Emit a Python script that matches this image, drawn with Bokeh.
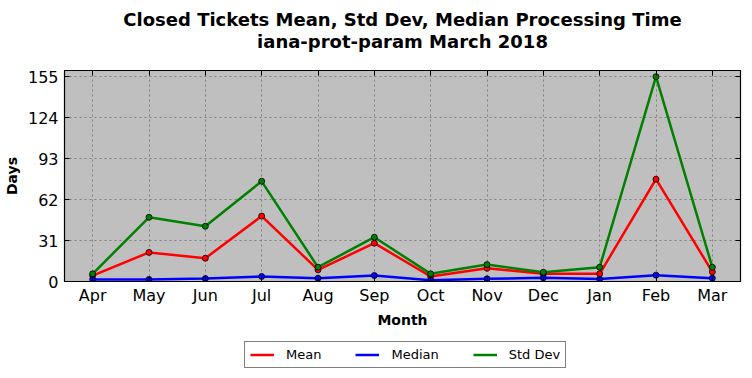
from bokeh.plotting import figure
from bokeh.layouts import column
from bokeh.models import FixedTicker, Legend, LegendItem, LinearAxis, Range1d, Label
from bokeh.embed import file_html
from bokeh.resources import INLINE

months = ["Apr", "May", "Jun", "Jul", "Aug", "Sep", "Oct", "Nov", "Dec", "Jan", "Feb", "Mar"]
mean = [4.5, 22, 17.6, 49.5, 8.8, 29, 3.8, 10, 5.8, 5.8, 77.4, 7.3]
median = [1.5, 1.5, 2.2, 3.8, 2.5, 4.5, 1.0, 2.0, 2.8, 1.8, 4.8, 2.5]
std_dev = [5.8, 48.6, 41.8, 75.8, 10.8, 33.5, 5.8, 12.8, 7.0, 10.8, 155, 10.8]
y_ticks = [0, 31, 62, 93, 124, 155]
title_lines = ["Closed Tickets Mean, Std Dev, Median Processing Time", "iana-prot-param March 2018"]
series = [("Mean", mean, "#ff0000"), ("Median", median, "#0000ff"), ("Std Dev", std_dev, "#008000")]

x = list(range(len(months)))
FONT = "DejaVu Sans"


def strip(height):
    f = figure(frame_width=676, frame_height=height, output_backend="svg", toolbar_location=None,
               x_range=Range1d(0, 1), y_range=Range1d(0, height),
               min_border_left=58, min_border_right=2, min_border_top=0, min_border_bottom=0)
    f.title = None
    f.axis.visible = False
    f.grid.visible = False
    f.outline_line_color = None
    f.background_fill_color = None
    f.border_fill_color = None
    return f


# title strip
tf = strip(62)
for line, ypos in zip(title_lines, [43, 21]):
    tf.add_layout(Label(x=0.5, y=ypos, text=line, text_align="center", text_baseline="middle",
                        text_font=FONT, text_font_size="18px", text_font_style="bold",
                        text_color="black"))

# main chart
p = figure(frame_width=676, frame_height=211, output_backend="svg", toolbar_location=None,
           x_range=Range1d(-0.5, 11.5), y_range=Range1d(0, 155 * 1.03),
           min_border_left=58, min_border_right=2, min_border_top=8, min_border_bottom=48)
p.title = None
xax = p.below[0]
yax = p.left[0]

top = LinearAxis(ticker=FixedTicker(ticks=x), major_label_overrides={i: "" for i in x},
                 major_tick_in=5, major_tick_out=0, minor_tick_line_color=None,
                 major_label_standoff=0, axis_line_color="black")
right = LinearAxis(ticker=FixedTicker(ticks=y_ticks), major_label_overrides={t: "" for t in y_ticks},
                   major_tick_in=5, major_tick_out=0, minor_tick_line_color=None,
                   major_label_standoff=0, axis_line_color="black")
p.add_layout(top, "above")
p.add_layout(right, "right")

p.background_fill_color = "#bfbfbf"
p.border_fill_color = "white"
p.outline_line_color = "black"
p.outline_line_width = 1.2

for ax in [xax, yax]:
    ax.major_label_text_font = FONT
    ax.major_label_text_font_size = "16px"
    ax.major_label_text_color = "black"
    ax.axis_label_text_font = FONT
    ax.axis_label_text_font_size = "14px"
    ax.axis_label_text_font_style = "bold"
    ax.axis_label_text_color = "black"
    ax.major_tick_in = 5
    ax.major_tick_out = 0
    ax.minor_tick_line_color = None
    ax.axis_line_color = "black"

xax.ticker = FixedTicker(ticks=x)
xax.major_label_overrides = {i: m for i, m in enumerate(months)}
xax.axis_label = "Month"
xax.major_label_standoff = 4
xax.axis_label_standoff = 4
yax.ticker = FixedTicker(ticks=y_ticks)
yax.axis_label = "Days"
yax.major_label_standoff = 6

p.xgrid.ticker = FixedTicker(ticks=x)
p.ygrid.ticker = FixedTicker(ticks=y_ticks)
p.grid.grid_line_color = "#7f7f7f"
p.grid.grid_line_dash = "2 3"
p.grid.grid_line_width = 1

for name, vals, col in series:
    p.line(x, vals, line_color=col, line_width=2.5)
for name, vals, col in series:
    p.scatter(x, vals, size=6, fill_color=col, line_color="black", line_width=0.8)

# legend strip below the chart (single-point lines only serve as legend glyph sources)
lf = strip(40)
items = []
for name, vals, col in series:
    r = lf.line([0], [0], line_color=col, line_width=2.5)
    items.append(LegendItem(label=name, renderers=[r]))
legend = Legend(items=items, orientation="horizontal", location=(224, 2),
                label_text_font=FONT, label_text_font_size="13px", label_text_color="black",
                label_height=15, glyph_height=15,
                border_line_color="black", border_line_width=1.2,
                background_fill_color="white", background_fill_alpha=1,
                glyph_width=24, label_standoff=12, spacing=34,
                padding=5, margin=0)
lf.add_layout(legend, "center")

layout = column(tf, p, lf, spacing=0)
open("out.html", "w").write(file_html(layout, INLINE))
